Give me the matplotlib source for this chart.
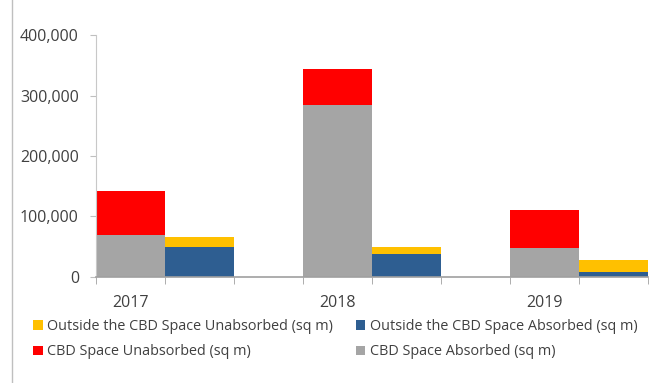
import numpy as np
import matplotlib.pyplot as plt
from matplotlib.lines import Line2D

# Données (sq m)
years = ['2017', '2018', '2019']
cbd_absorbed = [69000, 284000, 48000]
cbd_unabsorbed = [73000, 60000, 63000]
outside_absorbed = [50000, 38000, 7500]
outside_unabsorbed = [16500, 12000, 20000]

c_yellow = '#FFC000'
c_blue = '#2E5E91'
c_red = '#FF0000'
c_gray = '#A5A5A5'
txt = '#404040'

plt.rcParams['font.family'] = ['Open Sans', 'DejaVu Sans']

fig = plt.figure(figsize=(6.5, 3.83), dpi=100)
ax = fig.add_axes([0.147, 0.2775, 0.85, 0.63])

x = np.arange(len(years)) * 3
w = 1.0

# barres CBD
b_gray = ax.bar(x, cbd_absorbed, w, color=c_gray, label='CBD Space Absorbed (sq m)')
b_red = ax.bar(x, cbd_unabsorbed, w, bottom=cbd_absorbed, color=c_red,
               label='CBD Space Unabsorbed (sq m)')
# barres hors CBD
b_blue = ax.bar(x + 1, outside_absorbed, w, color=c_blue,
                label='Outside the CBD Space Absorbed (sq m)')
b_yellow = ax.bar(x + 1, outside_unabsorbed, w, bottom=outside_absorbed, color=c_yellow,
                  label='Outside the CBD Space Unabsorbed (sq m)')

ax.set_xlim(-0.5, 7.5)
ax.set_ylim(0, 400000)
ax.set_yticks(np.arange(0, 400001, 100000))
ax.set_yticklabels([f'{v:,}' for v in range(0, 400001, 100000)])

ax.set_xticks(x)
ax.set_xticklabels(years)
ax.set_xticks(np.arange(-0.5, 7.6, 1), minor=True)
ax.tick_params(axis='x', which='major', length=0, pad=13, labelsize=11.5, labelcolor=txt)
ax.tick_params(axis='x', which='minor', length=5, color='#A0A0A0', direction='out')
ax.tick_params(axis='y', length=4, color='#BFBFBF', labelsize=11.5, labelcolor=txt, pad=8)

for s in ['top', 'right']:
    ax.spines[s].set_visible(False)
ax.spines['left'].set_color('#C8C8C8')
ax.spines['bottom'].set_color('#A0A0A0')
ax.spines['bottom'].set_linewidth(1.2)

# bordure gauche du cadre
fig.add_artist(Line2D([0.019, 0.019], [0, 1], color='#BFBFBF', linewidth=1))

handles = [b_yellow, b_red, b_blue, b_gray]
labels = [h.get_label() for h in handles]
leg = fig.legend(handles, labels, ncol=2, loc='upper left', bbox_to_anchor=(0.051, 0.167),
                 frameon=False, fontsize=10.4, handlelength=0.65, handleheight=0.65,
                 handletextpad=0.3, columnspacing=1.6, labelspacing=0.72,
                 borderaxespad=0, borderpad=0)
for t in leg.get_texts():
    t.set_color(txt)

plt.savefig('out.png', dpi=100)
